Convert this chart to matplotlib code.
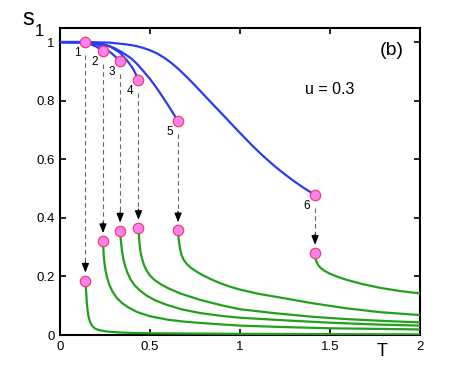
import matplotlib
matplotlib.use("Agg")
import matplotlib.pyplot as plt

plt.rcParams['font.family'] = ['Liberation Sans', 'DejaVu Sans']

# -----------------------------
# transition points (blue end -> green start)
# -----------------------------
trans_T = [0.141, 0.239, 0.334, 0.436, 0.656, 1.417]
s_upper = [1.0, 0.969, 0.935, 0.872, 0.730, 0.478]
s_lower = [0.185, 0.320, 0.356, 0.365, 0.357, 0.280]
labels = ["1", "2", "3", "4", "5", "6"]

# -----------------------------
# blue branches (before the jump)
# -----------------------------
blue_T = [
    [0, 0.07],
    [0, 0.12, 0.16, 0.2],
    [0, 0.15, 0.2, 0.25, 0.29],
    [0, 0.15, 0.22, 0.278, 0.33, 0.37, 0.405],
    [0, 0.15, 0.24, 0.30, 0.34, 0.37, 0.40, 0.43, 0.463, 0.5, 0.53, 0.556,
     0.6],
    [0, 0.15, 0.278, 0.37, 0.42, 0.463, 0.5, 0.54, 0.58, 0.62, 0.66,
     0.704, 0.75, 0.796, 0.85, 0.889, 0.935, 0.981, 1.028, 1.074, 1.12,
     1.167, 1.213, 1.259, 1.305, 1.352],
]
blue_s = [
    [1.0, 1.0],
    [1.0, 1.0, 0.995, 0.985],
    [1.0, 0.998, 0.993, 0.979, 0.96],
    [1.0, 0.999, 0.994, 0.985, 0.965, 0.939, 0.91],
    [1.0, 0.999, 0.993, 0.98, 0.967, 0.955, 0.942, 0.924, 0.901, 0.874,
     0.849, 0.826, 0.785],
    [1.0, 1.0, 0.998, 0.992, 0.987, 0.980, 0.972, 0.961, 0.946, 0.928,
     0.907, 0.881, 0.852, 0.822, 0.787, 0.762, 0.732, 0.702, 0.672, 0.643,
     0.616, 0.590, 0.566, 0.544, 0.523, 0.503],
]

# -----------------------------
# green branches (after the jump)
# -----------------------------
green_T = [
    [0.146, 0.149, 0.153, 0.158, 0.164, 0.172, 0.182, 0.195, 0.21, 0.23,
     0.26, 0.32, 0.4, 0.5, 0.7, 1.0, 1.5, 2.0],
    [0.241, 0.243, 0.247, 0.253, 0.262, 0.275, 0.292, 0.315, 0.345, 0.38,
     0.43, 0.5, 0.6, 0.7, 0.85, 1.0, 1.25, 1.5, 1.75, 2.0],
    [0.337, 0.340, 0.345, 0.352, 0.362, 0.375, 0.392, 0.414, 0.444, 0.48,
     0.53, 0.593, 0.68, 0.778, 0.9, 1.0, 1.25, 1.5, 1.75, 2.0],
    [0.439, 0.442, 0.447, 0.455, 0.466, 0.481, 0.5, 0.525, 0.56, 0.6,
     0.667, 0.778, 0.9, 1.0, 1.2, 1.407, 1.6, 1.8, 2.0],
    [0.659, 0.663, 0.668, 0.676, 0.688, 0.705, 0.728, 0.755, 0.79, 0.84,
     0.889, 0.95, 1.0, 1.1, 1.222, 1.407, 1.593, 1.778, 2.0],
    [1.419, 1.425, 1.435, 1.45, 1.47, 1.5, 1.55, 1.6, 1.68, 1.778, 1.89,
     2.0],
]
green_s = [
    [0.14, 0.11, 0.085, 0.065, 0.05, 0.038, 0.029, 0.022, 0.018, 0.015,
     0.012, 0.009, 0.007, 0.006, 0.005, 0.004, 0.003, 0.002],
    [0.295, 0.27, 0.245, 0.22, 0.195, 0.17, 0.148, 0.127, 0.109, 0.094,
     0.078, 0.064, 0.052, 0.045, 0.038, 0.032, 0.027, 0.023, 0.021, 0.019],
    [0.33, 0.31, 0.285, 0.26, 0.235, 0.212, 0.19, 0.17, 0.152, 0.135,
     0.118, 0.103, 0.087, 0.075, 0.065, 0.059, 0.050, 0.042, 0.036, 0.032],
    [0.335, 0.31, 0.285, 0.262, 0.24, 0.22, 0.203, 0.188, 0.173, 0.16,
     0.142, 0.12, 0.101, 0.088, 0.074, 0.062, 0.054, 0.048, 0.043],
    [0.33, 0.31, 0.29, 0.272, 0.256, 0.242, 0.229, 0.218, 0.205, 0.19,
     0.177, 0.164, 0.155, 0.141, 0.128, 0.108, 0.091, 0.078, 0.068],
    [0.262, 0.25, 0.238, 0.228, 0.219, 0.209, 0.197, 0.187, 0.174, 0.161,
     0.15, 0.142],
]

blue = '#2b3bf0'
green = '#22a01c'
pink = '#ff80f0'
pink_edge = '#f0406a'

fig = plt.figure(figsize=(4.63, 3.77), dpi=100)
ax = fig.add_axes([0.1296, 0.1114, 0.7775, 0.8143])

for k in range(len(trans_T)):
    bt = blue_T[k] + [trans_T[k]]
    bs = blue_s[k] + [s_upper[k]]
    ax.plot(bt, bs, color=blue, lw=1.6, zorder=3)
    gt = [trans_T[k]] + green_T[k]
    gs = [s_lower[k]] + green_s[k]
    ax.plot(gt, gs, color=green, lw=1.6, zorder=3)

    # dashed jump with arrow head
    ax.plot([trans_T[k], trans_T[k]], [s_upper[k] - 0.045, s_lower[k] + 0.06],
            ls=(0, (4, 3)), color='#666666', lw=0.8, zorder=2)
    ax.annotate('', xy=(trans_T[k], s_lower[k] + 0.028),
                xytext=(trans_T[k], s_lower[k] + 0.065),
                arrowprops=dict(arrowstyle='-|>,head_length=0.55,head_width=0.22',
                                color='black', lw=0.8, shrinkA=0, shrinkB=0),
                zorder=4)
    ax.text(trans_T[k] - 0.045, s_upper[k] - 0.038, labels[k], fontsize=8.5,
            ha='center', va='center', zorder=5)

ax.plot(trans_T, s_upper, 'o', ms=7.5, mfc=pink, mec=pink_edge, mew=0.9,
        zorder=6)
ax.plot(trans_T, s_lower, 'o', ms=7.5, mfc=pink, mec=pink_edge, mew=0.9,
        zorder=6)

ax.set_xlim(0, 2)
ax.set_ylim(0, 1.048)
ax.set_xticks([0, 0.5, 1, 1.5, 2])
ax.set_xticklabels(["0", "0.5", "1", "1.5", "2"])
ax.set_yticks([0, 0.2, 0.4, 0.6, 0.8, 1])
ax.set_yticklabels(["0", "0.2", "0.4", "0.6", "0.8", "1"])
ax.tick_params(direction='in', length=4, width=1.2, labelsize=9.5,
               top=True, right=True, pad=4)
for sp in ax.spines.values():
    sp.set_linewidth(1.5)

ax.text(0.955, 0.955, "(b)", transform=ax.transAxes, fontsize=14,
        ha='right', va='top')
ax.text(0.75, 0.80, "u = 0.3", transform=ax.transAxes, fontsize=11.5,
        ha='center', va='center')
fig.text(382 / 463, 1 - 352 / 377, "T", fontsize=13, ha='center', va='center')
fig.text(28 / 463, 1 - 19 / 377, "s", fontsize=17, ha='center', va='center')
fig.text(39 / 463, 1 - 31 / 377, "1", fontsize=12, ha='center', va='center')

fig.savefig("out.png", dpi=100)
